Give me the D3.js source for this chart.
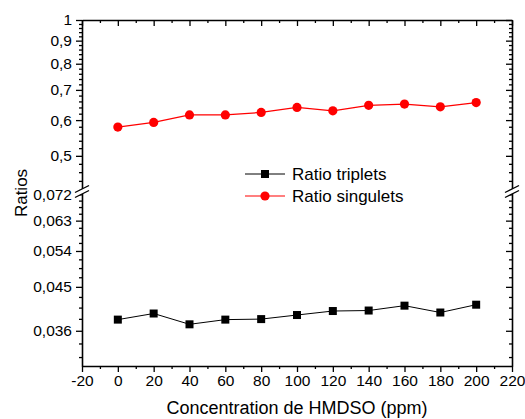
<!DOCTYPE html>
<html>
<head>
<meta charset="utf-8">
<script src="https://cdn.jsdelivr.net/npm/d3@7"></script>
<style>
  html, body { margin: 0; padding: 0; background: #fff; }
  svg { display: block; font-family: "Liberation Sans", Arial, sans-serif; }
  .axis path, .axis line { stroke: #000; }
  .axis text { fill: #000; font-size: 15.5px; font-family: "Liberation Sans", Arial, sans-serif; }
</style>
</head>
<body>
<svg id="chart" width="525" height="419"></svg>
<script>
// HMDSO concentration (ppm)
const concentrations = [0, 20, 40, 60, 80, 100, 120, 140, 160, 180, 200];
// Triplet and singlet ratios
const ratioTriplets  = [0.0381, 0.0393, 0.0372, 0.0381, 0.0382, 0.0390, 0.0398, 0.0399, 0.0409, 0.0395, 0.0411];
const ratioSingulets = [0.579, 0.593, 0.616, 0.616, 0.624, 0.640, 0.629, 0.647, 0.651, 0.642, 0.656];

// Tick values
const xTicks = [-20, 0, 20, 40, 60, 80, 100, 120, 140, 160, 180, 200, 220];
const xMinorTicks = [-10, 10, 30, 50, 70, 90, 110, 130, 150, 170, 190, 210];
const upperTicks = [0.5, 0.6, 0.7, 0.8, 0.9, 1];
const upperMinorTicks = [0.42, 0.44, 0.46, 0.48, 0.52, 0.54, 0.56, 0.58, 0.62, 0.64, 0.66, 0.68,
                         0.72, 0.74, 0.76, 0.78, 0.82, 0.84, 0.86, 0.88, 0.92, 0.94, 0.96, 0.98];
const lowerTicks = [0.036, 0.045, 0.054, 0.063, 0.072];
const lowerMinorTicks = [0.0315, 0.03375, 0.03825, 0.0405, 0.04275, 0.04725, 0.0495, 0.05175,
                         0.05625, 0.0585, 0.06075, 0.06525, 0.0675, 0.06975];

const svg = d3.select("#chart");
const plotLeft = 82, plotRight = 512, plotTop = 20, plotBottom = 366;
const breakTop = 190, breakBottom = 193;

const x = d3.scaleLinear().domain([-20, 220]).range([plotLeft, plotRight]);
const yUp = d3.scaleLog().domain([0.42, 1]).range([breakTop, plotTop]);
const yLo = d3.scaleLog().domain([0.0301, 0.0725]).range([plotBottom, breakBottom]);

const fmt = d => String(d).replace(".", ",");
const fmtX = d => String(d);

function styleAxis(g) {
  g.attr("class", "axis");
  g.selectAll("path").attr("stroke-width", 1.6);
  g.selectAll("line").attr("stroke-width", 1.3);
}

// Bottom axis (outward ticks, labelled)
svg.append("g").attr("transform", `translate(0,${plotBottom})`)
  .call(d3.axisBottom(x).tickValues(xTicks).tickSize(6).tickSizeOuter(0).tickPadding(3).tickFormat(fmtX))
  .call(styleAxis);
svg.append("g").attr("transform", `translate(0,${plotBottom})`)
  .call(d3.axisBottom(x).tickValues(xMinorTicks).tickSize(3).tickFormat(""))
  .call(g => g.select(".domain").remove()).call(styleAxis);

// Top axis (inward ticks)
svg.append("g").attr("transform", `translate(0,${plotTop})`)
  .call(d3.axisBottom(x).tickValues(xTicks).tickSize(6).tickSizeOuter(0).tickFormat(""))
  .call(styleAxis);
svg.append("g").attr("transform", `translate(0,${plotTop})`)
  .call(d3.axisBottom(x).tickValues(xMinorTicks).tickSize(3).tickFormat(""))
  .call(g => g.select(".domain").remove()).call(styleAxis);

// Left and right axes: upper and lower segments
[[yUp, upperTicks, upperMinorTicks], [yLo, lowerTicks, lowerMinorTicks]].forEach(([ys, maj, mnr]) => {
  svg.append("g").attr("transform", `translate(${plotLeft},0)`)
    .call(d3.axisLeft(ys).tickValues(maj).tickSize(6).tickSizeOuter(0).tickPadding(4).tickFormat(fmt))
    .call(styleAxis);
  svg.append("g").attr("transform", `translate(${plotLeft},0)`)
    .call(d3.axisLeft(ys).tickValues(mnr).tickSize(3).tickFormat(""))
    .call(g => g.select(".domain").remove()).call(styleAxis);
  // Right axis, inward ticks
  svg.append("g").attr("transform", `translate(${plotRight},0)`)
    .call(d3.axisLeft(ys).tickValues(maj).tickSize(6).tickSizeOuter(0).tickFormat(""))
    .call(styleAxis);
  svg.append("g").attr("transform", `translate(${plotRight},0)`)
    .call(d3.axisLeft(ys).tickValues(mnr).tickSize(3).tickFormat(""))
    .call(g => g.select(".domain").remove()).call(styleAxis);
});

// Axis break marks
const breakMid = (breakTop + breakBottom) / 2;
[plotLeft, plotRight].forEach(ax => {
  const g = svg.append("g");
  const dx = 7, dy = 3.5, gap = 2.5;
  g.append("polygon")
    .attr("points", [[ax - dx, breakMid + gap + dy], [ax + dx, breakMid + gap - dy],
                     [ax + dx, breakMid - gap - dy], [ax - dx, breakMid - gap + dy]].map(p => p.join(",")).join(" "))
    .attr("fill", "#fff");
  [-gap, gap].forEach(o => {
    g.append("line")
      .attr("x1", ax - dx).attr("y1", breakMid + o + dy)
      .attr("x2", ax + dx).attr("y2", breakMid + o - dy)
      .attr("stroke", "#000").attr("stroke-width", 1.3);
  });
});

// Singlet series (upper segment)
const lineUp = d3.line().x((d, i) => x(concentrations[i])).y(d => yUp(d));
svg.append("path").datum(ratioSingulets)
  .attr("d", lineUp).attr("fill", "none").attr("stroke", "#ff0000").attr("stroke-width", 1.2);
svg.append("g").selectAll("circle").data(ratioSingulets).join("circle")
  .attr("cx", (d, i) => x(concentrations[i])).attr("cy", d => yUp(d))
  .attr("r", 4.6).attr("fill", "#ff0000");

// Triplet series (lower segment)
const lineLo = d3.line().x((d, i) => x(concentrations[i])).y(d => yLo(d));
svg.append("path").datum(ratioTriplets)
  .attr("d", lineLo).attr("fill", "none").attr("stroke", "#000").attr("stroke-width", 1);
const sq = 8;
svg.append("g").selectAll("rect").data(ratioTriplets).join("rect")
  .attr("x", (d, i) => x(concentrations[i]) - sq / 2).attr("y", d => yLo(d) - sq / 2)
  .attr("width", sq).attr("height", sq).attr("fill", "#000");

// Legend
const legend = svg.append("g");
const legendItems = [
  { label: "Ratio triplets", color: "#000", shape: "square", y: 174 },
  { label: "Ratio singulets", color: "#ff0000", shape: "circle", y: 196 }
];
legendItems.forEach(it => {
  legend.append("line").attr("x1", 245).attr("x2", 285).attr("y1", it.y).attr("y2", it.y)
    .attr("stroke", it.color).attr("stroke-width", it.shape === "circle" ? 1.2 : 1);
  if (it.shape === "square") {
    legend.append("rect").attr("x", 265 - sq / 2).attr("y", it.y - sq / 2)
      .attr("width", sq).attr("height", sq).attr("fill", it.color);
  } else {
    legend.append("circle").attr("cx", 265).attr("cy", it.y).attr("r", 4.6).attr("fill", it.color);
  }
  legend.append("text").attr("x", 292).attr("y", it.y + 6)
    .attr("font-size", 17).attr("fill", "#000").text(it.label);
});

// Axis titles
svg.append("text").attr("x", (plotLeft + plotRight) / 2).attr("y", 414)
  .attr("text-anchor", "middle").attr("font-size", 18).attr("fill", "#000")
  .text("Concentration de HMDSO (ppm)");
svg.append("text").attr("transform", `translate(27,${(plotTop + plotBottom) / 2}) rotate(-90)`)
  .attr("text-anchor", "middle").attr("font-size", 17).attr("fill", "#000")
  .text("Ratios");
</script>
</body>
</html>
